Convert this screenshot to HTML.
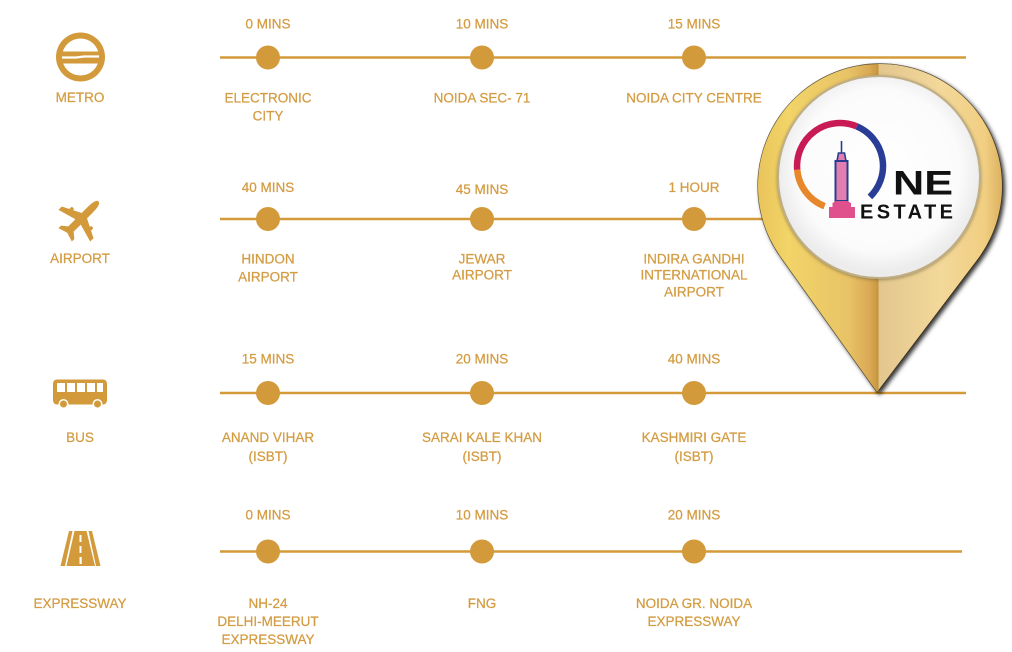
<!DOCTYPE html>
<html><head><meta charset="utf-8"><style>
html,body{margin:0;padding:0;background:#fff;}
svg{display:block;}
text{font-family:"Liberation Sans",sans-serif;}
.t{font-size:13.5px;fill:#d49c42;stroke:#d49c42;stroke-width:0.25;text-anchor:middle;}
</style></head><body>
<svg width="1012" height="652" viewBox="0 0 1012 652" xmlns="http://www.w3.org/2000/svg">
<defs>
<linearGradient id="lg" x1="758" y1="0" x2="878" y2="0" gradientUnits="userSpaceOnUse">
<stop offset="0" stop-color="#e9c45c"/><stop offset="0.25" stop-color="#f2d468"/><stop offset="0.75" stop-color="#e8c366"/><stop offset="0.93" stop-color="#d9a954"/><stop offset="1" stop-color="#c8963e"/>
</linearGradient>
<linearGradient id="rg" x1="878" y1="0" x2="1003" y2="0" gradientUnits="userSpaceOnUse">
<stop offset="0" stop-color="#e2c68e"/><stop offset="0.5" stop-color="#f3d89a"/><stop offset="0.85" stop-color="#f1cf82"/><stop offset="1" stop-color="#dcb060"/>
</linearGradient>
<radialGradient id="wg" cx="879" cy="170" r="101" gradientUnits="userSpaceOnUse">
<stop offset="0" stop-color="#ffffff"/><stop offset="0.8" stop-color="#fbfbfb"/><stop offset="1" stop-color="#ececec"/>
</radialGradient>
<filter id="sh" x="-20%" y="-20%" width="140%" height="140%">
<feDropShadow dx="2.5" dy="2.5" stdDeviation="2" flood-color="#000" flood-opacity="0.8"/>
</filter>
<filter id="sh2" x="-20%" y="-20%" width="140%" height="140%">
<feDropShadow dx="0" dy="1" stdDeviation="1.5" flood-color="#6b5a30" flood-opacity="0.6"/>
</filter>
<clipPath id="cl"><rect x="700" y="0" width="178" height="652"/></clipPath>
<clipPath id="cr"><rect x="878" y="0" width="200" height="652"/></clipPath>
</defs>

<!-- lines -->
<g stroke="#d49a3a" stroke-width="2.5">
<line x1="220" y1="57.5" x2="966" y2="57.5"/>
<line x1="220" y1="219" x2="966" y2="219"/>
<line x1="220" y1="393" x2="966" y2="393"/>
<line x1="220" y1="551.5" x2="962" y2="551.5"/>
</g>
<!-- dots -->
<g fill="#d39a3c">
<circle cx="268" cy="57.5" r="12"/><circle cx="482" cy="57.5" r="12"/><circle cx="694" cy="57.5" r="12"/>
<circle cx="268" cy="219" r="12"/><circle cx="482" cy="219" r="12"/><circle cx="694" cy="219" r="12"/>
<circle cx="268" cy="393" r="12"/><circle cx="482" cy="393" r="12"/><circle cx="694" cy="393" r="12"/>
<circle cx="268" cy="551.5" r="12"/><circle cx="482" cy="551.5" r="12"/><circle cx="694" cy="551.5" r="12"/>
</g>

<!-- icons -->
<g fill="#d39a3c">
<!-- metro -->
<circle cx="80.5" cy="57" r="24.5"/>
<circle cx="80.5" cy="57" r="18.5" fill="#fff"/>
<rect x="61" y="51.5" width="39" height="12"/>
<path d="M62 57.5 H76 L84 56.5 H99" stroke="#fff" stroke-width="2.2" fill="none"/>
<!-- airplane -->
<g transform="translate(81,219) rotate(45) scale(1.18)">
<path d="M0,-21 C2.6,-21 3.2,-16 3.2,-11 L3.2,-4 L19,4 L19,8 L3.2,3.5 L3.2,12 L8,16 L8,19 L0,16.5 L-8,19 L-8,16 L-3.2,12 L-3.2,3.5 L-19,8 L-19,4 L-3.2,-4 L-3.2,-11 C-3.2,-16 -2.6,-21 0,-21Z"/>
<rect x="-13" y="-2" width="3" height="5" rx="1"/><rect x="10" y="-2" width="3" height="5" rx="1"/>
</g>
<!-- bus -->
<rect x="53" y="379.5" width="54" height="25" rx="4"/>
<g fill="#fff">
<rect x="57" y="383" width="8" height="9"/><rect x="67" y="383" width="8" height="9"/><rect x="77" y="383" width="8" height="9"/><rect x="87" y="383" width="8" height="9"/><rect x="97" y="383" width="6" height="9"/>
</g>
<circle cx="63.5" cy="404" r="5" fill="#fff"/><circle cx="63.5" cy="404" r="3.5"/>
<circle cx="97.5" cy="404" r="5" fill="#fff"/><circle cx="97.5" cy="404" r="3.5"/>
<!-- road -->
<path d="M69,531 L72.5,531 L65,566 L60.5,566 Z"/>
<path d="M74.5,531 L86.5,531 L95,566 L66.5,566 Z"/>
<path d="M88.5,531 L92,531 L100.5,566 L96,566 Z"/>
<g fill="#fff"><rect x="79.5" y="535" width="2" height="7"/><rect x="79.5" y="546" width="2" height="7"/><rect x="79.5" y="557" width="2.2" height="7"/></g>
</g>

<!-- left labels -->
<text class="t" x="80" y="102">METRO</text>
<text class="t" x="80" y="263">AIRPORT</text>
<text class="t" x="80" y="442">BUS</text>
<text class="t" x="80" y="608">EXPRESSWAY</text>

<!-- metro -->
<text class="t" x="268" y="28.5">0 MINS</text>
<text class="t" x="482" y="28.5">10 MINS</text>
<text class="t" x="694" y="28.5">15 MINS</text>
<text class="t" x="268" y="102.5">ELECTRONIC</text>
<text class="t" x="268" y="120.5">CITY</text>
<text class="t" x="482" y="102.5">NOIDA SEC- 71</text>
<text class="t" x="694" y="102.5">NOIDA CITY CENTRE</text>

<!-- airport -->
<text class="t" x="268" y="192">40 MINS</text>
<text class="t" x="482" y="194">45 MINS</text>
<text class="t" x="694" y="192">1 HOUR</text>
<text class="t" x="268" y="263.5">HINDON</text>
<text class="t" x="268" y="281.5">AIRPORT</text>
<text class="t" x="482" y="263.5">JEWAR</text>
<text class="t" x="482" y="279.5">AIRPORT</text>
<text class="t" x="694" y="263.5">INDIRA GANDHI</text>
<text class="t" x="694" y="279.5">INTERNATIONAL</text>
<text class="t" x="694" y="296.5">AIRPORT</text>

<!-- bus -->
<text class="t" x="268" y="363.5">15 MINS</text>
<text class="t" x="482" y="363.5">20 MINS</text>
<text class="t" x="694" y="363.5">40 MINS</text>
<text class="t" x="268" y="442">ANAND VIHAR</text>
<text class="t" x="268" y="461">(ISBT)</text>
<text class="t" x="482" y="442">SARAI KALE KHAN</text>
<text class="t" x="482" y="461">(ISBT)</text>
<text class="t" x="694" y="442">KASHMIRI GATE</text>
<text class="t" x="694" y="461">(ISBT)</text>

<!-- expressway -->
<text class="t" x="268" y="519.5">0 MINS</text>
<text class="t" x="482" y="519.5">10 MINS</text>
<text class="t" x="694" y="519.5">20 MINS</text>
<text class="t" x="268" y="608">NH-24</text>
<text class="t" x="268" y="626">DELHI-MEERUT</text>
<text class="t" x="268" y="644">EXPRESSWAY</text>
<text class="t" x="482" y="608">FNG</text>
<text class="t" x="694" y="608">NOIDA GR. NOIDA</text>
<text class="t" x="694" y="626">EXPRESSWAY</text>

<!-- pin -->
<g filter="url(#sh)">
<path d="M877,392 L781.7,258.2 A122,122 0 1 1 978.3,258.2 Z" fill="#e8c870" stroke="#2e220a" stroke-width="1.3" stroke-opacity="0.75"/>
</g>
<path d="M877,392 L781.7,258.2 A122,122 0 1 1 978.3,258.2 Z" fill="url(#lg)" clip-path="url(#cl)"/>
<path d="M877,392 L781.7,258.2 A122,122 0 1 1 978.3,258.2 Z" fill="url(#rg)" clip-path="url(#cr)"/>
<line x1="878" y1="64" x2="878" y2="391" stroke="#c29036" stroke-width="1.2" opacity="0.8"/>
<g filter="url(#sh2)">
<circle cx="879" cy="177" r="101" fill="url(#wg)" stroke="#bfae86" stroke-width="2"/>
</g>

<!-- logo -->
<g fill="none" stroke-width="6.5">
<path d="M824.6,206.2 A43,43 0 0 1 797.2,169.7" stroke="#e8862a"/>
<path d="M797.2,169.7 A43,43 0 0 1 856.8,126.4" stroke="#c81a55"/>
<path d="M856.8,126.4 A43,43 0 0 1 869.9,196.9" stroke="#2a3d96"/>
</g>
<line x1="841.5" y1="141" x2="841.5" y2="153" stroke="#283d8f" stroke-width="1.6"/>
<path d="M838.5,153 L844.5,153 L846,161 L837,161 Z" fill="#e27fb0" stroke="#283d8f" stroke-width="1.6"/>
<rect x="835.5" y="161" width="12" height="40" fill="#e27fb0" stroke="#283d8f" stroke-width="2"/>
<path d="M829,218 L829,207 L832.5,207 L832.5,203 L836,201 L847,201 L851,203 L851,207 L855,207 L855,218 Z" fill="#e0508c"/>
<text x="893" y="194.5" font-size="34" font-weight="bold" fill="#111" textLength="60" lengthAdjust="spacingAndGlyphs">NE</text>
<text x="860" y="218.5" font-size="20" font-weight="bold" fill="#111" textLength="93">ESTATE</text>
</svg>
</body></html>
